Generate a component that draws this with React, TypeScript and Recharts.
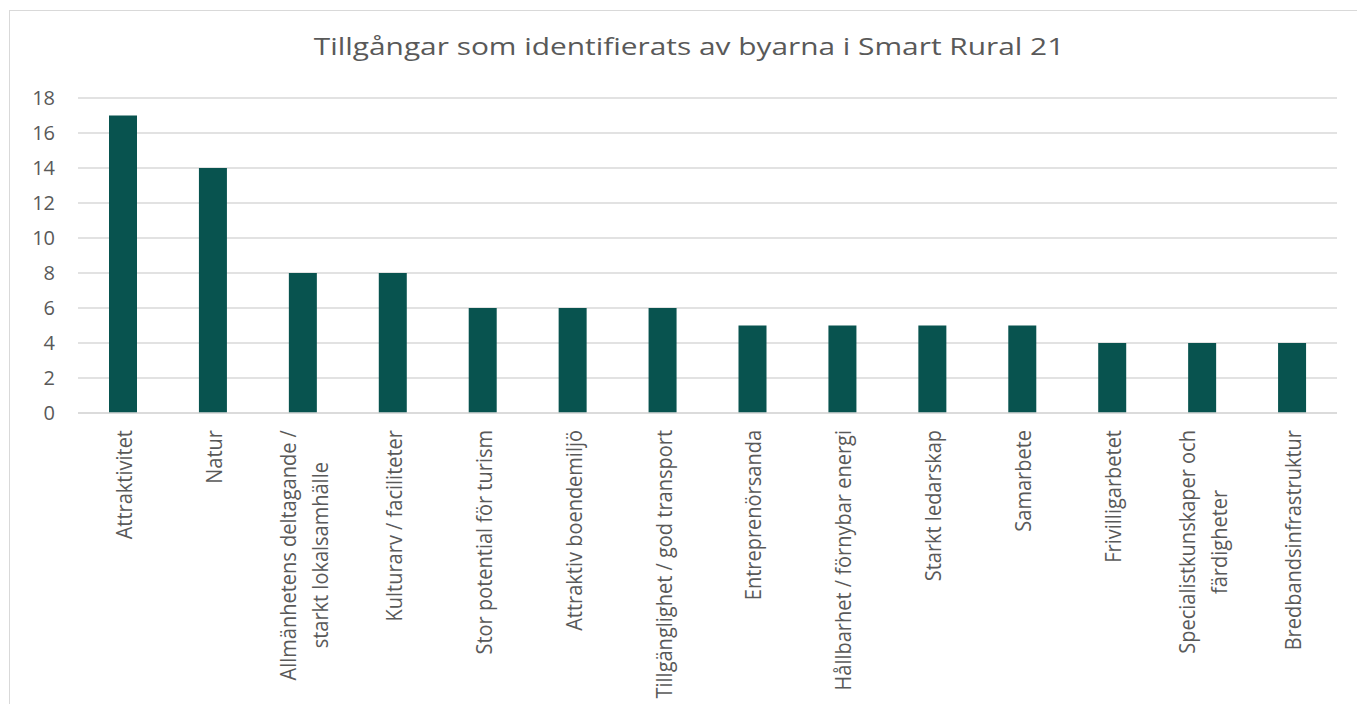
import React from 'react';
import { BarChart, Bar, XAxis, YAxis, CartesianGrid } from 'recharts';

const categories = [
  'Attraktivitet',
  'Natur',
  'Allmänhetens deltagande /\nstarkt lokalsamhälle',
  'Kulturarv / faciliteter',
  'Stor potential för turism',
  'Attraktiv boendemiljö',
  'Tillgänglighet / god transport',
  'Entreprenörsanda',
  'Hållbarhet / förnybar energi',
  'Starkt ledarskap',
  'Samarbete',
  'Frivilligarbetet',
  'Specialistkunskaper och\nfärdigheter',
  'Bredbandsinfrastruktur',
];
const counts = [17, 14, 8, 8, 6, 6, 6, 5, 5, 5, 5, 4, 4, 4];
const yTicks = [0, 2, 4, 6, 8, 10, 12, 14, 16, 18];

const title = 'Tillgångar som identifierats av byarna i Smart Rural 21';

const data = categories.map((name, i) => ({ name, value: counts[i] }));

const FONT = "'Open Sans', sans-serif";
const LABEL_SIZE = 20;
const LINE_GAP = 32;

let ctx: CanvasRenderingContext2D | null = null;
const measure = (s: string) => {
  if (!ctx) ctx = document.createElement('canvas').getContext('2d');
  if (!ctx) return s.length * LABEL_SIZE * 0.5;
  ctx.font = `${LABEL_SIZE}px 'Open Sans'`;
  return ctx.measureText(s).width;
};

// rotated category labels, multi-line ones centred as a block
const CategoryTick = (props: any) => {
  const { x, y, payload } = props;
  const lines: string[] = String(payload.value).split('\n');
  const widest = Math.max(...lines.map(measure));
  const offset = 15;
  return (
    <g transform={`translate(${x},${y}) scale(1.12,1) rotate(-90)`}>
      {lines.map((line, i) => (
        <text
          key={i}
          x={lines.length > 1 ? -offset - widest / 2 : -offset}
          y={(i - (lines.length - 1) / 2) * (LINE_GAP / 1.12)}
          dy="0.4em"
          textAnchor={lines.length > 1 ? 'middle' : 'end'}
          fill="#595959"
          fontSize={LABEL_SIZE}
          fontFamily={FONT}
        >
          {line}
        </text>
      ))}
    </g>
  );
};

const App = () => (
  <div style={{ position: 'absolute', left: 0, top: 0, width: 1357, height: 704, overflow: 'hidden', background: '#fff' }}>
    <div
      style={{
        position: 'absolute',
        left: 9,
        top: 10,
        width: 1400,
        height: 800,
        border: '1.5px solid #d9d9d9',
      }}
    />
    <BarChart
      width={1357}
      height={704}
      data={data}
      margin={{ top: 98, right: 20, bottom: 0, left: 0 }}
      barSize={28}
      style={{ position: 'absolute', left: 0, top: 0 }}
    >
      <CartesianGrid vertical={false} stroke="#d9d9d9" strokeWidth={1.5} />
      <XAxis
        dataKey="name"
        interval={0}
        height={291}
        tickSize={0}
        tickLine={false}
        axisLine={{ stroke: '#d9d9d9', strokeWidth: 1.5 }}
        tick={<CategoryTick />}
      />
      <YAxis
        width={78}
        domain={[0, 18]}
        ticks={yTicks}
        tickSize={0}
        tickMargin={23}
        axisLine={false}
        tickLine={false}
        tick={{ fill: '#595959', fontSize: LABEL_SIZE, fontFamily: FONT }}
      />
      <Bar dataKey="value" fill="#08534f" isAnimationActive={false} />
    </BarChart>
    <svg width={1357} height={80} style={{ position: 'absolute', left: 0, top: 0, pointerEvents: 'none' }}>
      <g transform="translate(689,55) scale(1.27,1)">
        <text x={0} y={0} textAnchor="middle" fill="#595959" fontSize={23.5} fontFamily={FONT}>
          {title}
        </text>
      </g>
    </svg>
  </div>
);

export default App;
